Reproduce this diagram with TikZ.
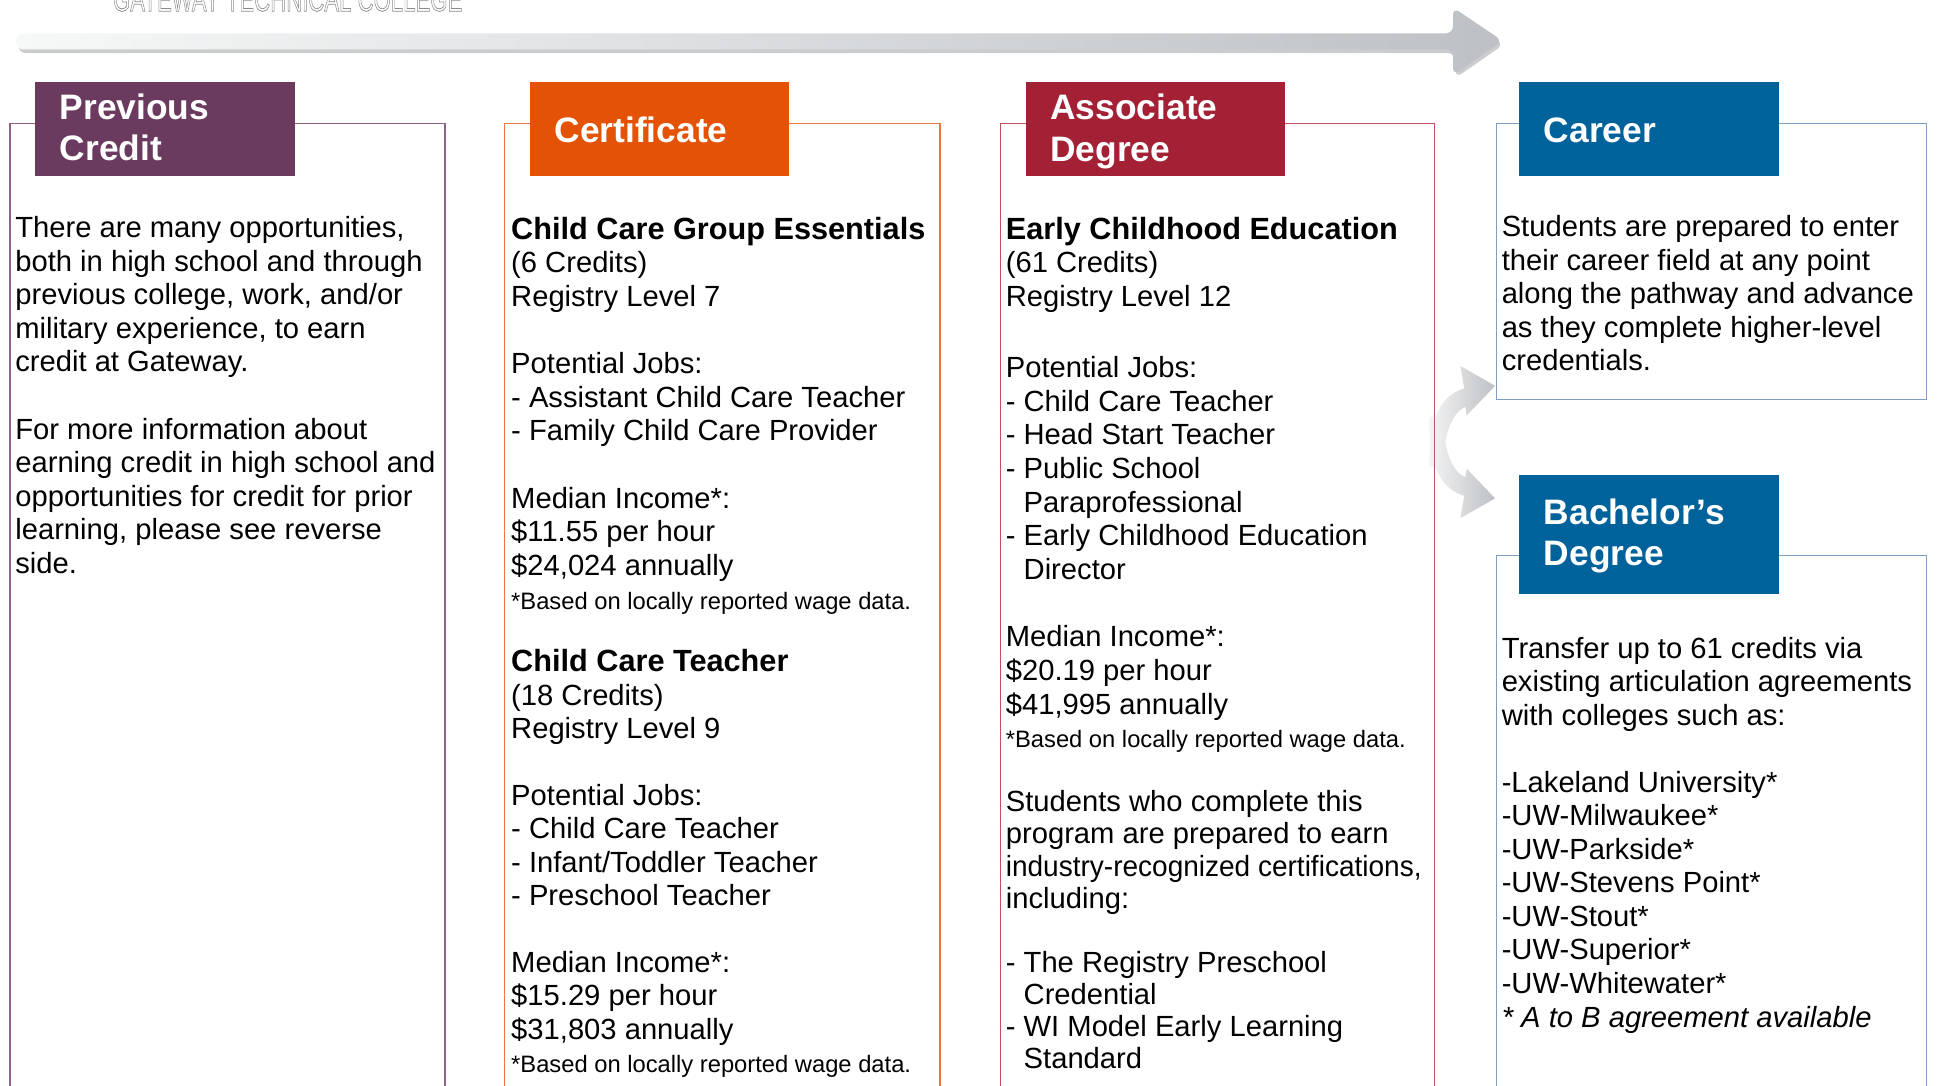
\documentclass[tikz,border=0pt]{standalone}
\usepackage{fontspec}
\setmainfont{Liberation Sans}
\definecolor{cpurple}{HTML}{6B3A5F}
\definecolor{corange}{HTML}{E35205}
\definecolor{cred}{HTML}{A32035}
\definecolor{cblue}{HTML}{00629B}
\definecolor{lpurple}{HTML}{8E6283}
\definecolor{lorange}{HTML}{E8793F}
\definecolor{lred}{HTML}{C2515F}
\definecolor{lblue}{HTML}{7E9FC3}
\definecolor{arrowgray}{HTML}{BDC1C5}
\definecolor{arrowlight}{HTML}{F7F8F8}
\definecolor{shadowgray}{HTML}{CBCCCD}
\definecolor{gtgray}{HTML}{8A8A8A}
\newcommand\bodyfont{\fontsize{11.8}{13.55}\selectfont}
\newcommand\smallfnt{\fontsize{9.6}{13.55}\selectfont}
\newcommand\ttl[1]{{\fontsize{12.4}{13.55}\selectfont\bfseries #1}}
\newcommand\hdrfont{\fontsize{14.3}{16.5}\selectfont\bfseries}
\newcommand\fl{\rule{0pt}{10pt}}
\tikzset{
  txt/.style={anchor=north west, inner sep=0pt, align=left, font=\bodyfont},
  hdrbox/.style={anchor=north west, inner sep=0pt, minimum width=105pt, minimum height=38pt, draw=none},
  htxt/.style={anchor=base west, inner sep=0pt, text=white, font=\hdrfont},
  outl/.style={line width=0.6pt},
  curvarrow/.style={left color=white!92!gray, right color=arrowgray}
}
\begin{document}
\begin{tikzpicture}[x=0.5pt,y=-0.5pt]
\useasboundingbox (0,0) rectangle (1568,878.2);

% top text
\node[anchor=base west, inner sep=0pt, text=gtgray] (gtc) at (91,9)
  {\fontsize{14}{14}\selectfont\scalebox{0.64}[1]{\special{pdf:literal direct 1 Tr 0.3 w}GATEWAY TECHNICAL COLLEGE\special{pdf:literal direct 0 Tr}}};

% big arrow
\fill[shadowgray, rounded corners=3] (15,30) -- (1177,30) -- (1177,10) -- (1216,36) -- (1177,63) -- (1177,43) -- (15,43) -- cycle;
\shade[left color=arrowlight, right color=arrowgray, rounded corners=3] (13,27) -- (1175,27) -- (1175,6) -- (1215,33) -- (1175,61) -- (1175,40) -- (13,40) -- cycle;

% curved arrows
\coordinate (cu) at (1209,312);
\coordinate (cd) at (1209,403);
\shade[curvarrow] (1156,378) .. controls (1155,338) and (1165,320) .. (1184,314) -- (1181,296) -- (cu) -- (1186,336) -- (1185,329) .. controls (1175,333) and (1167,350) .. (1167,378) -- cycle;
\shade[curvarrow] (1156,337) .. controls (1155,377) and (1165,395) .. (1184,401) -- (1181,419) -- (cd) -- (1186,379) -- (1185,386) .. controls (1175,382) and (1167,365) .. (1167,337) -- cycle;

% column outlines
\draw[outl, draw=lpurple] (8,890) -- (8,100) -- (360,100) -- (360,890);
\draw[outl, draw=lorange] (408,890) -- (408,100) -- (760,100) -- (760,890);
\draw[outl, draw=lred] (809,890) -- (809,100) -- (1160,100) -- (1160,890);
\draw[outl, draw=lblue] (1210,100) rectangle (1558,323);
\draw[outl, draw=lblue] (1210,890) -- (1210,449) -- (1558,449) -- (1558,890);

% header boxes
\node[hdrbox, fill=cpurple] (h1) at (28,66) {};
\node[hdrbox, fill=corange] (h2) at (428,66) {};
\node[hdrbox, fill=cred] (h3) at (829,66) {};
\node[hdrbox, fill=cblue] (h4) at (1228,66) {};
\node[hdrbox, fill=cblue, minimum height=48pt] (h5) at (1228,384) {};

\node[htxt] (t1a) at (48,97) {Previous};
\node[htxt] (t1b) at (48,130) {Credit};
\node[htxt] (t2) at (448,115) {Certificate};
\node[htxt] (t3a) at (849,97) {Associate};
\node[htxt] (t3b) at (849,131) {Degree};
\node[htxt] (t4) at (1248,115) {Career};
\node[htxt] (t5a) at (1248,424) {Bachelor’s};
\node[htxt] (t5b) at (1248,457) {Degree};

% column 1
\node[txt] (c1) at (12,172) {\fl There are many opportunities,\\
both in high school and through\\
previous college, work, and/or\\
military experience, to earn\\
credit at Gateway.\\[13.55pt]
For more information about\\
earning credit in high school and\\
opportunities for credit for prior\\
learning, please see reverse\\
side.};

% column 2
\node[txt, font=\fontsize{11.8}{13.6}\selectfont] (c2a) at (413,173) {\fl\ttl{Child Care Group Essentials}\\
(6 Credits)\\
Registry Level 7\\[13.6pt]
Potential Jobs:\\
- Assistant Child Care Teacher\\
- Family Child Care Provider\\[13.6pt]
Median Income*:\\
\$11.55 per hour\\
\$24,024 annually\\
{\smallfnt *Based on locally reported wage data.}};

\node[txt, font=\fontsize{11.8}{13.5}\selectfont] (c2b) at (413,523) {\fl\ttl{Child Care Teacher}\\
(18 Credits)\\
Registry Level 9\\[13.5pt]
Potential Jobs:\\
- Child Care Teacher\\
- Infant/Toddler Teacher\\
- Preschool Teacher\\[13.5pt]
Median Income*:\\
\$15.29 per hour\\
\$31,803 annually\\
{\smallfnt *Based on locally reported wage data.}};

% column 3
\node[txt, font=\fontsize{11.8}{13.6}\selectfont] (c3a) at (813,173) {\fl\ttl{Early Childhood Education}\\
(61 Credits)\\
Registry Level 12};

\node[txt, font=\fontsize{11.8}{13.6}\selectfont] (c3b) at (813,285) {\fl Potential Jobs:\\
- Child Care Teacher\\
- Head Start Teacher\\
- Public School\\
\phantom{- }Paraprofessional\\
- Early Childhood Education\\
\phantom{- }Director\\[13.6pt]
Median Income*:\\
\$20.19 per hour\\
\$41,995 annually\\
{\smallfnt *Based on locally reported wage data.}};

\node[txt, font=\fontsize{11.8}{13}\selectfont] (c3c) at (813,636) {\fl Students who complete this\\
program are prepared to earn\\
\scalebox{0.96}[1]{industry-recognized certifications,}\\
including:\\[13pt]
- The Registry Preschool\\
\phantom{- }Credential\\
- WI Model Early Learning\\
\phantom{- }Standard};

% column 4
\node[txt] (c4) at (1214,171) {\fl Students are prepared to enter\\
their career field at any point\\
along the pathway and advance\\
as they complete higher-level\\
credentials.};

\node[txt] (c5) at (1214,512) {\fl Transfer up to 61 credits via\\
existing articulation agreements\\
with colleges such as:\\[13.55pt]
-Lakeland University*\\
-UW-Milwaukee*\\
-UW-Parkside*\\
-UW-Stevens Point*\\
-UW-Stout*\\
-UW-Superior*\\
-UW-Whitewater*\\
\textit{* A to B agreement available}};
\end{tikzpicture}
\end{document}
